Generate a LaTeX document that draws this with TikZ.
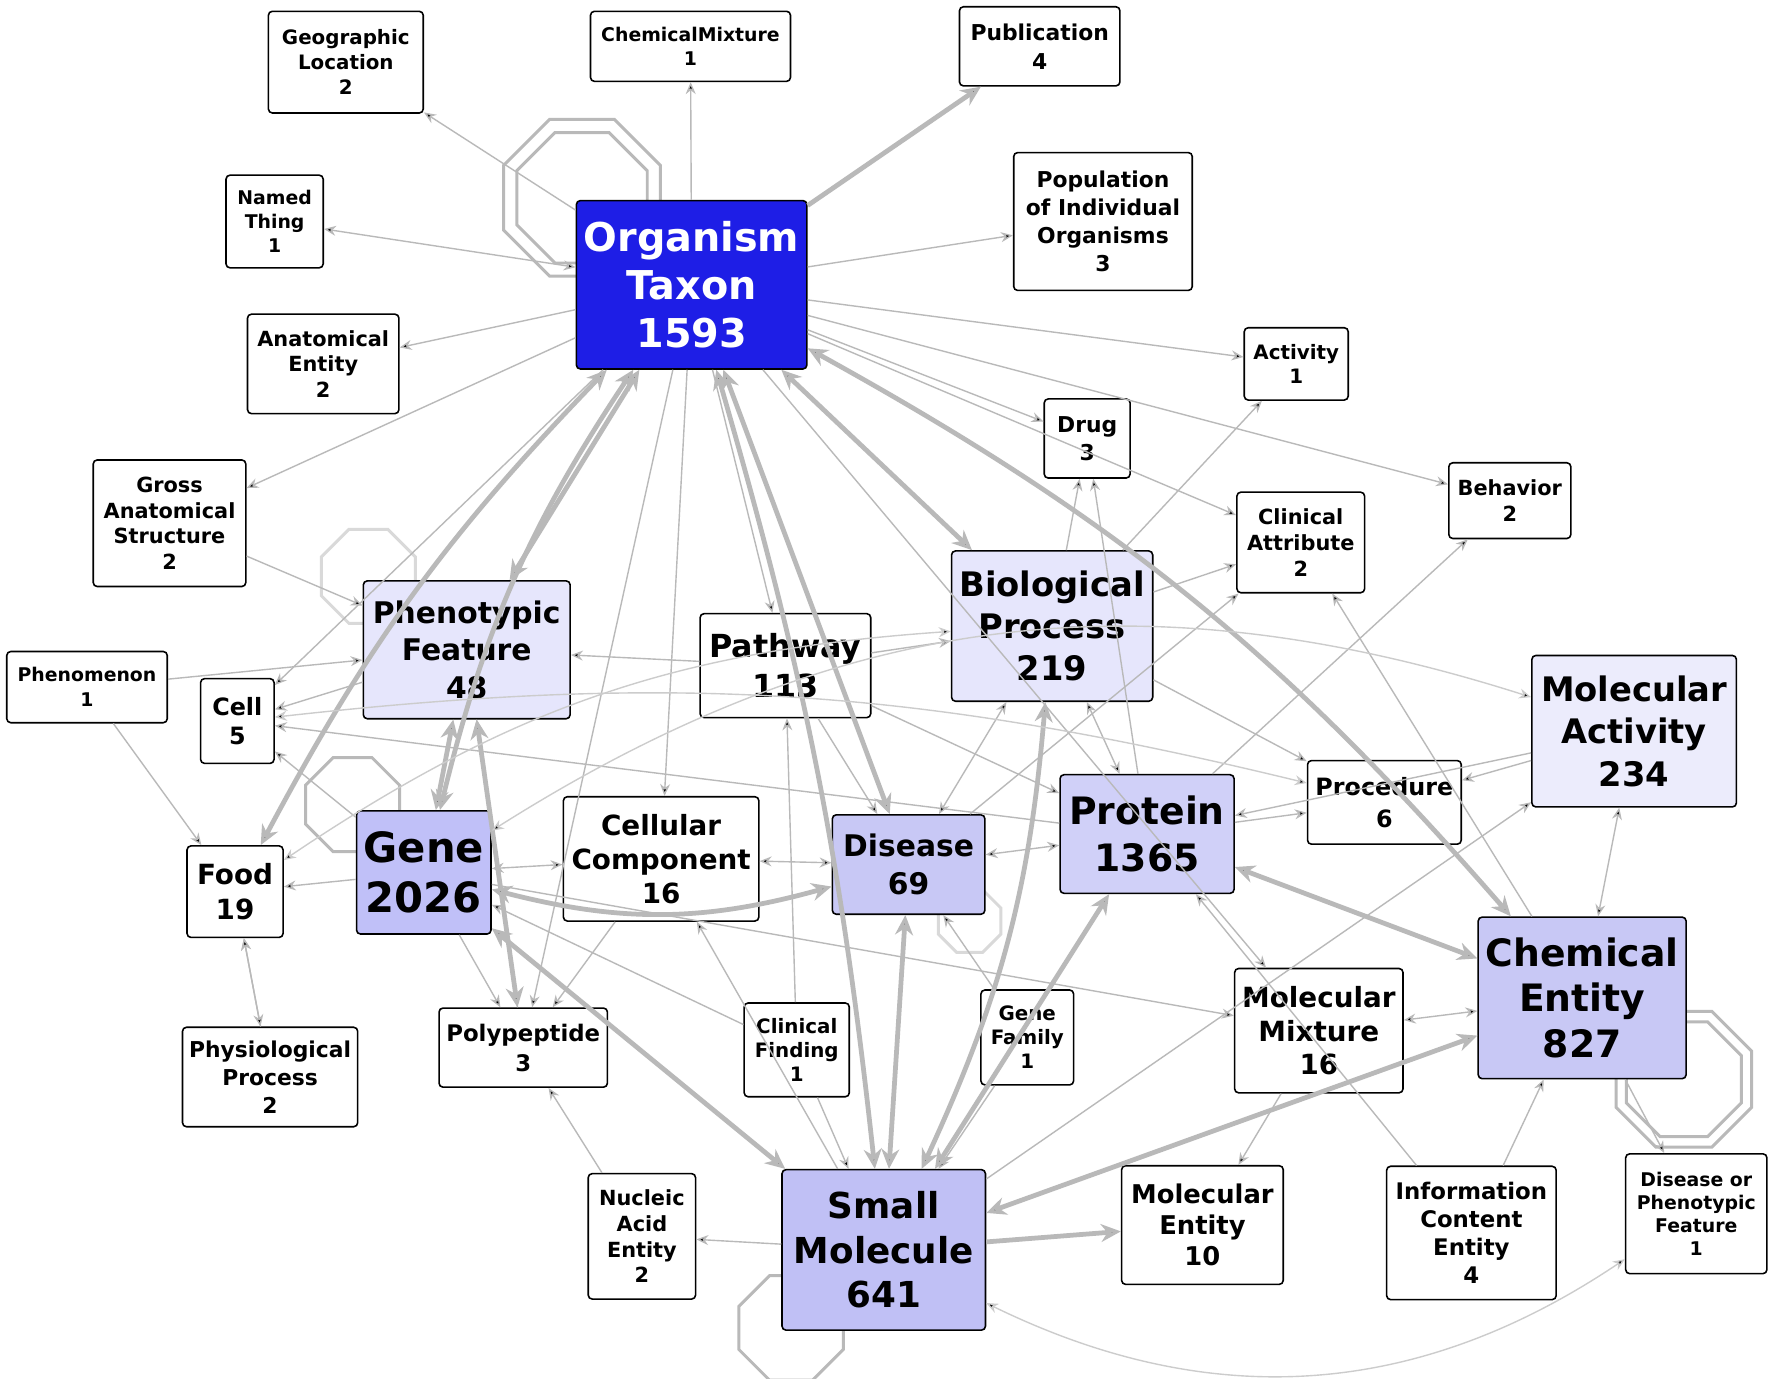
\documentclass[tikz,border=0pt]{standalone}
\usepackage{fontspec}
\setmainfont{DejaVu Sans}
\usetikzlibrary{arrows.meta,shapes.geometric}
\begin{document}
\begin{tikzpicture}[x=0.02cm,y=-0.02cm,
 box/.style={draw=black,line width=0.8pt,rounded corners=2pt,fill=white,align=center,inner sep=0pt,font=\bfseries},
 sz/.style 2 args={minimum width={#1*0.02cm},minimum height={#2*0.02cm}},
 e/.style={draw=gray!55,line width=0.7pt,-{Stealth[length=6pt,width=5pt]}},
 ee/.style={e,{Stealth[length=6pt,width=5pt]}-{Stealth[length=6pt,width=5pt]}},
 t/.style={draw=gray!55,line width=2.4pt,-{Stealth[length=10pt,width=9pt]}},
 tt/.style={t,{Stealth[length=10pt,width=9pt]}-{Stealth[length=10pt,width=9pt]}},
 loop8/.style={draw=gray!55,line width=1.5pt,regular polygon,regular polygon sides=8,inner sep=0pt},
 fs/.style 2 args={font=\bfseries\fontsize{#1}{#2}\selectfont}]
\useasboundingbox[fill=white] (0,0) rectangle (1568,1220);
% self loops
\node[loop8,minimum size=3cm] (l1) at (515,175) {};
\node[loop8,minimum size=2.5cm] (l1b) at (515,175) {};
\node[loop8,minimum size=1.8cm] (l2) at (312,712) {};
\node[loop8,minimum size=2.2cm] (l3) at (1490,955) {};
\node[loop8,minimum size=2.6cm] (l3b) at (1490,955) {};
\node[loop8,minimum size=2cm] (l4) at (700,1175) {};
\node[loop8,minimum size=1.8cm,draw=gray!30] (l5) at (326,510) {};
\node[loop8,minimum size=1.2cm,draw=gray!30] (l6) at (858,815) {};
% nodes
\node[box,sz={204}{149},fill={rgb,255:red,30;green,30;blue,230},text=white,fs={20}{24}] (OT) at (612,252) {Organism\\Taxon\\1593};
\node[box,sz={137}{90},fs={10}{12.5}] (GL) at (306,55) {Geographic\\Location\\2};
\node[box,sz={177}{62},fs={9.5}{12}] (CM) at (611,41) {ChemicalMixture\\1};
\node[box,sz={142}{70},fs={11}{14.5}] (PB) at (920,41) {Publication\\4};
\node[box,sz={86}{82},fs={9.5}{12}] (NT) at (243,196) {Named\\Thing\\1};
\node[box,sz={158}{122},fs={11}{14}] (PI) at (976,196) {Population\\of Individual\\Organisms\\3};
\node[box,sz={134}{88},fs={10.5}{13}] (AE) at (286,322) {Anatomical\\Entity\\2};
\node[box,sz={92}{64},fs={10}{12.5}] (AC) at (1147,322) {Activity\\1};
\node[box,sz={76}{70},fs={11}{14}] (DR) at (962,388) {Drug\\3};
\node[box,sz={135}{112},fs={10.5}{13}] (GA) at (150,463) {Gross\\Anatomical\\Structure\\2};
\node[box,sz={108}{67},fs={10.5}{13}] (BH) at (1336,443) {Behavior\\2};
\node[box,sz={113}{89},fs={10.5}{13}] (CA) at (1151,480) {Clinical\\Attribute\\2};
\node[box,sz={183}{122},fill={rgb,255:red,230;green,230;blue,252},fs={15}{19}] (PF) at (413,575) {Phenotypic\\Feature\\48};
\node[box,sz={151}{92},fs={16}{20}] (PW) at (695,589) {Pathway\\113};
\node[box,sz={178}{133},fill={rgb,255:red,230;green,230;blue,252},fs={17}{21}] (BP) at (931,554) {Biological\\Process\\219};
\node[box,sz={181}{134},fill={rgb,255:red,236;green,236;blue,252},fs={17}{21.5}] (MA) at (1446,647) {Molecular\\Activity\\234};
\node[box,sz={142}{63},fs={9.5}{12.5}] (PN) at (77,608) {Phenomenon\\1};
\node[box,sz={65}{75},fs={12}{15}] (CE) at (210,638) {Cell\\5};
\node[box,sz={136}{74},fs={12}{16}] (PR) at (1225,710) {Procedure\\6};
\node[box,sz={85}{81},fs={14}{17.5}] (FD) at (208,789) {Food\\19};
\node[box,sz={119}{109},fill={rgb,255:red,192;green,192;blue,248},fs={21}{25}] (GN) at (375,772) {Gene\\2026};
\node[box,sz={173}{110},fs={14}{17}] (CC) at (585,760) {Cellular\\Component\\16};
\node[box,sz={135}{88},fill={rgb,255:red,200;green,200;blue,245},fs={15}{19}] (DS) at (804,765) {Disease\\69};
\node[box,sz={154}{105},fill={rgb,255:red,208;green,208;blue,248},fs={19}{24}] (PT) at (1015,738) {Protein\\1365};
\node[box,sz={184}{143},fill={rgb,255:red,200;green,200;blue,245},fs={19}{23}] (CH) at (1400,883) {Chemical\\Entity\\827};
\node[box,sz={149}{110},fs={14}{17}] (MM) at (1167,912) {Molecular\\Mixture\\16};
\node[box,sz={82}{84},fs={10}{12}] (GF) at (909,918) {Gene\\Family\\1};
\node[box,sz={93}{83},fs={10}{12}] (CF) at (705,929) {Clinical\\Finding\\1};
\node[box,sz={149}{70},fs={11.5}{15}] (PP) at (463,927) {Polypeptide\\3};
\node[box,sz={155}{88},fs={11}{14}] (PH) at (239,953) {Physiological\\Process\\2};
\node[box,sz={95}{111},fs={10.5}{13}] (NA) at (568,1094) {Nucleic\\Acid\\Entity\\2};
\node[box,sz={180}{142},fill={rgb,255:red,192;green,192;blue,245},fs={18}{22.5}] (SM) at (782,1106) {Small\\Molecule\\641};
\node[box,sz={143}{105},fs={13}{15.5}] (ME) at (1064,1084) {Molecular\\Entity\\10};
\node[box,sz={150}{118},fs={11.5}{14}] (IC) at (1302,1091) {Information\\Content\\Entity\\4};
\node[box,sz={125}{106},fs={9.5}{11.5}] (DP) at (1501,1074) {Disease or\\Phenotypic\\Feature\\1};
% edges
\begin{scope}[on background layer/.style={}]
\end{scope}
\begin{pgfonlayer}{main}\end{pgfonlayer}
\path[e] (OT) edge (GL) edge (CM) edge (PI) edge (AE) edge (AC) edge (DR) edge (GA) edge (BH) edge (CA) edge (PW) edge (CC) edge (CE) edge (MM) edge (PP);
\path[ee] (OT) edge (NT);
\path[t] (OT) edge (PB);
\path[tt] (OT) edge (PF) edge (DS) edge (BP);
\path[tt] (OT) edge[bend right=10] (GN) edge[bend left=5] (SM) edge[bend left=10] (CH) edge[bend right=8] (FD);
\path[e] (PW) edge (PF) edge (BP) edge (DS) edge (PT) (CF) edge (PW) (PN) edge (FD) edge (PF) (PH) edge (FD)
 (GN) edge (FD) edge (PP) edge (CE) edge (MM) (PP) edge (PF) (GA) edge (PF) (GF) edge (DS) edge (SM) (CF) edge (SM) edge (GN)
 (SM) edge (NA) (SM) edge (MA) (MA) edge (PR) (PT) edge (BH) edge (PR) (IC) edge (CH) edge (PT) (BP) edge (CA) edge (DR) edge (AC)
 (CH) edge (DP) (MM) edge (ME) (PT) edge (DR) (DS) edge (CA) (CH) edge (CA) (BP) edge (PR) (NA) edge (PP) (CC) edge (PP)
 (MA) edge (PT) (SM) edge (CC) (PF) edge (CE) (PT) edge (CE);
\path[ee] (GN) edge (CC) (DS) edge (CC) (DS) edge (PT) (BP) edge (PT) (BP) edge (DS) (CH) edge (MM) (CH) edge (MA) (FD) edge (PH);
\path[t] (SM) edge (ME);
\path[tt] (GN) edge (SM) (SM) edge (DS) (SM) edge (PT) (SM) edge (CH) (PT) edge (CH) (GN) edge (PF) (SM) edge[bend right=10] (BP) (PF) edge (PP) (GN) edge[bend right=15] (DS);
\path[ee,draw=gray!40] (GN) edge[bend left=25] (MA) (FD) edge[bend left=15] (BP) (CE) edge[bend left=10] (PR) (SM) edge[bend right=30] (DP);
\end{tikzpicture}
\end{document}
